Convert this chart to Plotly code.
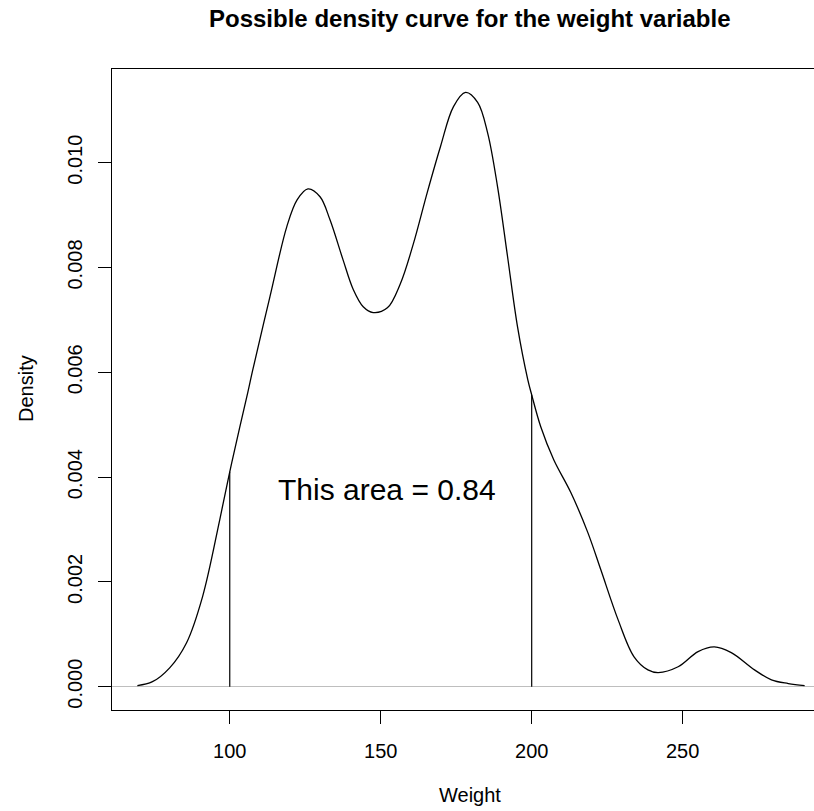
import plotly.graph_objects as go

# Estimated density of weight (kernel density curve)
weight = [69.4, 74.4, 80.1, 85.7, 91.0, 96.7, 100.0, 103.3, 106.0, 107.6, 113.3, 118.9,
          122.3, 125.9, 129.9, 133.2, 137.5, 140.9, 144.2, 147.5, 152.2, 156.5, 160.8,
          165.4, 169.8, 174.1, 178.1, 182.1, 185.4, 188.7, 192.0, 195.3, 198.7, 200.0,
          203.0, 207.3, 213.0, 218.6, 222.9, 228.6, 233.9, 238.5, 241.9, 248.5, 255.1,
          260.5, 266.1, 273.8, 279.4, 285.0, 290.4]
density = [0.00002, 0.000095, 0.00036, 0.00084, 0.00172, 0.00319, 0.00410, 0.00495,
           0.00562, 0.00604, 0.00744, 0.00878, 0.00929, 0.00950, 0.00935, 0.00891,
           0.00815, 0.00758, 0.00725, 0.00714, 0.00723, 0.00769, 0.00845, 0.00943,
           0.01031, 0.01107, 0.01134, 0.01115, 0.01057, 0.00954, 0.00821, 0.00687,
           0.00586, 0.00557, 0.00496, 0.00433, 0.00370, 0.00294, 0.00223, 0.00128,
           0.00057, 0.00032, 0.00027, 0.00038, 0.00067, 0.00076, 0.00065, 0.00032,
           0.00013, 0.00006, 0.00002]

# Interval bounds and the area between them
bounds = [100, 200]
bound_heights = [density[weight.index(b)] for b in bounds]
area_label = "This area = 0.84"
area_label_pos = (152.2, 0.00376)

x_ticks = [100, 150, 200, 250]
y_ticks = [0.000, 0.002, 0.004, 0.006, 0.008, 0.010]

FONT = "Liberation Sans, Arial, sans-serif"

fig = go.Figure()

fig.add_trace(go.Scatter(
    x=weight, y=density, mode="lines",
    line=dict(color="black", width=1.3, shape="spline", smoothing=1.0),
    hoverinfo="skip", showlegend=False,
))

for b, h in zip(bounds, bound_heights):
    fig.add_trace(go.Scatter(
        x=[b, b], y=[0, h], mode="lines",
        line=dict(color="black", width=1.2),
        hoverinfo="skip", showlegend=False,
    ))

fig.add_annotation(
    x=area_label_pos[0], y=area_label_pos[1], text=area_label,
    showarrow=False, xanchor="center", yanchor="middle",
    font=dict(family=FONT, size=30, color="black"),
)

W, H = 814, 811
L, R, T, B = 112, 0, 69, 101
ph = H - T - B
pw = W - L - R
cx = 470  # horizontal centre of the full plotting region

fig.add_annotation(
    xref="paper", yref="paper", x=(cx - L) / pw, y=(H - B - 19) / ph,
    text="<b>Possible density curve for the weight variable</b>", showarrow=False,
    xanchor="center", yanchor="middle",
    font=dict(family=FONT, size=24, color="black"),
)
fig.add_annotation(
    xref="paper", yref="paper", x=(cx - L) / pw, y=(H - B - 795) / ph,
    text="Weight", showarrow=False, xanchor="center", yanchor="middle",
    font=dict(family=FONT, size=20, color="black"),
)
fig.add_annotation(
    xref="paper", yref="paper", x=(26 - L) / pw, y=(H - B - 389) / ph,
    text="Density", showarrow=False, textangle=-90, xanchor="center", yanchor="middle",
    font=dict(family=FONT, size=20, color="black"),
)

fig.update_xaxes(
    range=[61.0, 293.5], tickvals=x_ticks, ticktext=[str(v) for v in x_ticks],
    ticks="outside", ticklen=13, tickwidth=1, tickcolor="black",
    showline=True, linecolor="black", linewidth=1.2, mirror=True,
    showgrid=False, zeroline=False,
    tickfont=dict(family=FONT, size=20, color="black"),
    ticklabelstandoff=10,
)
fig.update_yaxes(
    range=[-0.000445, 0.011788], tickvals=y_ticks, ticktext=[f"{v:.3f}" for v in y_ticks],
    ticks="outside", ticklen=13, tickwidth=1, tickcolor="black", tickangle=-90,
    showline=True, linecolor="black", linewidth=1.2, mirror=True,
    showgrid=False, zeroline=True, zerolinecolor="#bebebe", zerolinewidth=1,
    tickfont=dict(family=FONT, size=20, color="black"),
    ticklabelstandoff=8,
)

fig.update_layout(
    width=W, height=H,
    margin=dict(l=L, r=R, t=T, b=B, pad=0),
    plot_bgcolor="white", paper_bgcolor="white",
    showlegend=False,
)

fig.write_html("out.html")
